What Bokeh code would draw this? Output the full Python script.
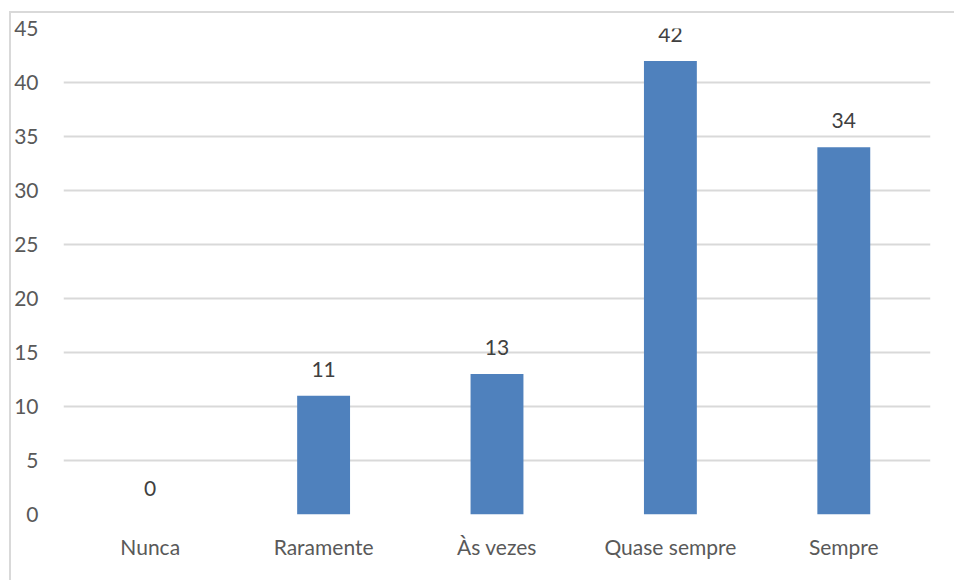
from bokeh.plotting import figure
from bokeh.models import ColumnDataSource, FixedTicker, LabelSet
from bokeh.core.properties import value
from bokeh.embed import file_html
from bokeh.resources import INLINE

categories = ["Nunca", "Raramente", "Às vezes", "Quase sempre", "Sempre"]
counts = [0, 11, 13, 42, 34]
y_ticks = [0, 5, 10, 15, 20, 25, 30, 35, 40, 45]

FONT = "Lato"
TEXT = "#595959"
GRID = "#d9d9d9"
BAR = "#4f81bd"

source = ColumnDataSource(data=dict(cat=categories, val=counts,
                                    lbl=[str(v) for v in counts]))

p = figure(x_range=categories, y_range=(0, 45), width=945, height=569,
           output_backend="svg", toolbar_location=None,
           min_border_left=47, min_border_right=26, min_border_top=15,
           min_border_bottom=68)
p.margin = (11, 0, 0, 9)
p.styles = {"border-top": "2px solid #d9d9d9", "border-left": "2px solid #d9d9d9"}

p.vbar(x="cat", top="val", width=0.305, source=source,
       fill_color=BAR, line_color=None)

labels = LabelSet(x="cat", y="val", text="lbl", source=source,
                  text_align="center", text_baseline="alphabetic", y_offset=19,
                  text_font=value(FONT), text_font_size="21px",
                  text_color="#404040")
p.add_layout(labels)

p.outline_line_color = None
p.xgrid.grid_line_color = None
p.ygrid.grid_line_color = GRID
p.ygrid.grid_line_width = 2
p.yaxis.ticker = FixedTicker(ticks=y_ticks)

for ax in (p.xaxis, p.yaxis):
    ax.axis_line_color = None
    ax.major_tick_line_color = None
    ax.minor_tick_line_color = None
    ax.major_label_text_font = FONT
    ax.major_label_text_font_size = "21px"
    ax.major_label_text_color = TEXT
p.yaxis.major_label_standoff = 19
p.xaxis.major_label_standoff = 13

open("out.html", "w").write(file_html(p, INLINE))
